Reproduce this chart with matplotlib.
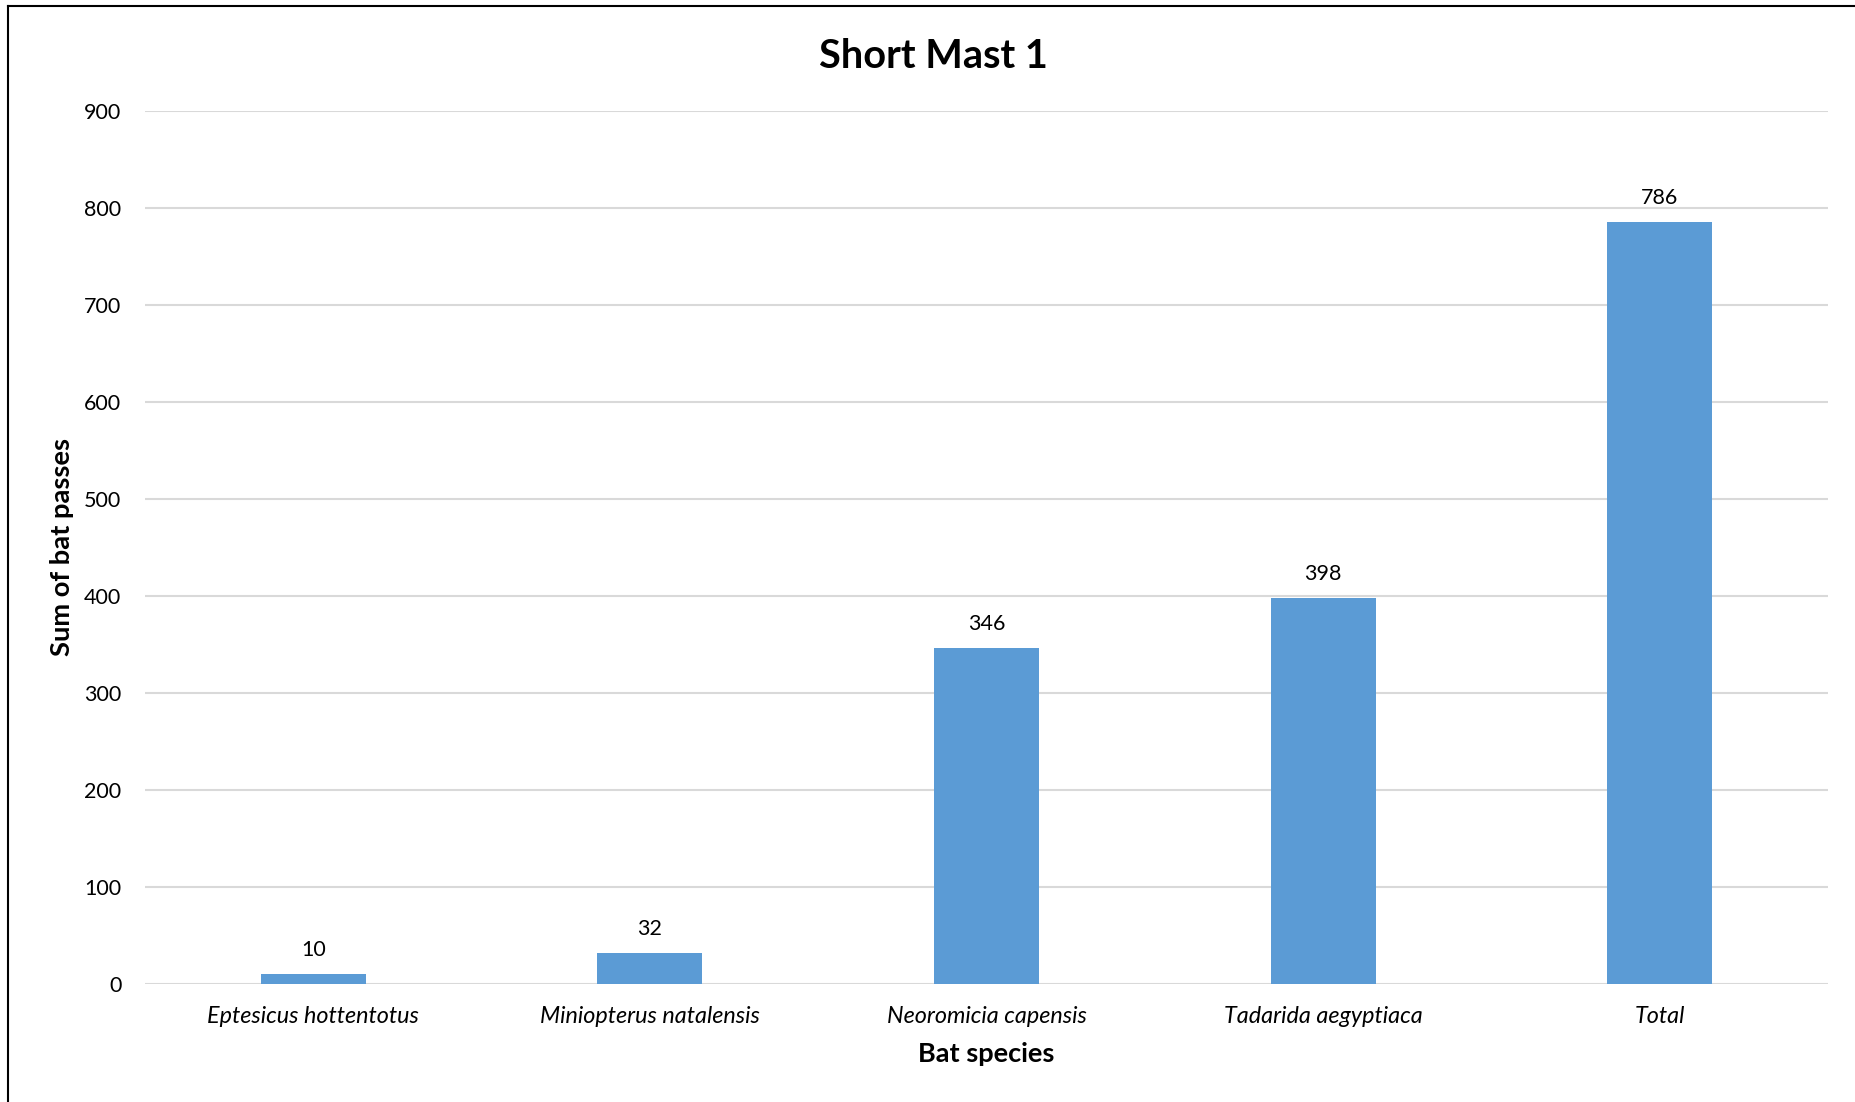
import matplotlib
matplotlib.use("Agg")
import matplotlib.pyplot as plt
from matplotlib.lines import Line2D

categories = ["Eptesicus hottentotus", "Miniopterus natalensis", "Neoromicia capensis",
              "Tadarida aegyptiaca", "Total"]
values = [10, 32, 346, 398, 786]
yticks = [0, 100, 200, 300, 400, 500, 600, 700, 800, 900]

plt.rcParams['font.family'] = ['Lato', 'DejaVu Sans']

W, H = 1856, 1102
fig = plt.figure(figsize=(W / 100, H / 100), dpi=100)
ax = fig.add_axes([145 / W, 1 - 984 / H, (1828 - 145) / W, (984 - 111) / H])

x = list(range(len(categories)))
bars = ax.bar(x, values, width=0.312, color="#5B9BD5", zorder=3)
ax.set_xlim(-0.5, len(categories) - 0.5)
ax.set_ylim(0, 900)
ax.set_yticks(yticks)
ax.set_yticklabels([str(t) for t in yticks], fontsize=15.5)
ax.set_xticks(x)
ax.set_xticklabels(categories, fontsize=16.8, style='italic')
ax.tick_params(axis='both', length=0, colors='black')
ax.tick_params(axis='y', pad=17)
ax.tick_params(axis='x', pad=16)
ax.grid(axis='y', color='#d9d9d9', linewidth=1.5, zorder=0)
for s in ax.spines.values():
    s.set_visible(False)

for xi, v in zip(x, values):
    ax.annotate(str(v), (xi, v), xytext=(0, 13), textcoords='offset points',
                ha='center', va='baseline', fontsize=15.5)

ax.set_xlabel("Bat species", fontsize=19.5, fontweight='bold', labelpad=11)
ax.set_ylabel("Sum of bat passes", fontsize=19.7, fontweight='bold', labelpad=7)
fig.text(933 / W, 1 - 57 / H, "Short Mast 1", ha='center', va='center',
         fontsize=28.5, fontweight='bold')

fig.add_artist(Line2D([8.5 / W, 8.5 / W], [0, 1 - 6 / H], transform=fig.transFigure,
                      color='black', linewidth=1.5))
fig.add_artist(Line2D([8.5 / W, 1], [1 - 6 / H, 1 - 6 / H], transform=fig.transFigure,
                      color='black', linewidth=1.5))

fig.savefig("out.png", dpi=100, facecolor='white')
